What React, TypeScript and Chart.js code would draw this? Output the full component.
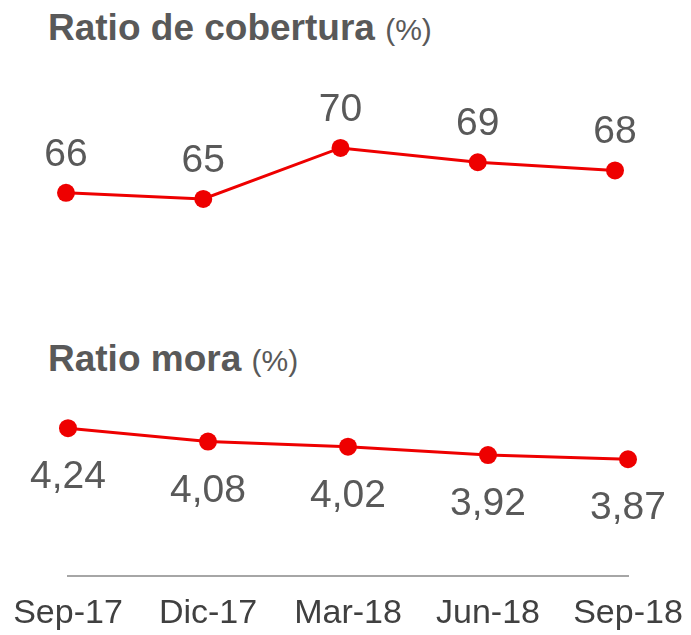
import React, { useEffect, useRef } from "react";
import { Chart, registerables } from "chart.js";

Chart.register(...registerables);

const categories = ["Sep-17", "Dic-17", "Mar-18", "Jun-18", "Sep-18"];
const coberturaValues = [65.6, 65.0, 70.0, 68.6, 67.8];
const moraValues = [4.24, 4.08, 4.02, 3.92, 3.87];

const FONT = "'Liberation Sans', Arial, Helvetica, sans-serif";
const RED = "#ee0000";
const LABEL_GRAY = "#595959";
const TICK_GRAY = "#404040";

function makeLabelPlugin(id: string, dy: number, fmt: (v: number) => string, size: number) {
  return {
    id,
    afterDatasetsDraw(chart: any) {
      const ctx = chart.ctx;
      ctx.save();
      ctx.font = `${size}px ${FONT}`;
      ctx.fillStyle = LABEL_GRAY;
      ctx.textAlign = "center";
      ctx.textBaseline = "alphabetic";
      chart.data.datasets.forEach((ds: any, i: number) => {
        const meta = chart.getDatasetMeta(i);
        meta.data.forEach((pt: any, j: number) => {
          ctx.fillText(fmt(ds.data[j] as number), pt.x, pt.y + dy);
        });
      });
      ctx.restore();
    },
  };
}

export default function App() {
  const topRef = useRef<HTMLCanvasElement>(null);
  const botRef = useRef<HTMLCanvasElement>(null);

  useEffect(() => {
    const lineDataset = (data: number[]) => ({
      data,
      borderColor: RED,
      backgroundColor: RED,
      borderWidth: 3,
      pointRadius: 9,
      pointHoverRadius: 9,
      pointBackgroundColor: RED,
      pointBorderWidth: 0,
      tension: 0,
      clip: false as any,
    });

    const top = new Chart(topRef.current!, {
      type: "line",
      data: { labels: categories, datasets: [lineDataset(coberturaValues)] },
      options: {
        animation: false,
        responsive: false,
        maintainAspectRatio: false,
        events: [],
        layout: { padding: { left: 66, right: 76, top: 100, bottom: 10 } },
        plugins: { legend: { display: false }, tooltip: { enabled: false } },
        scales: {
          x: { display: false, offset: false },
          y: { display: false, min: 60, max: 74.7 },
        },
      },
      plugins: [makeLabelPlugin("topLabels", -27, (v) => String(Math.round(v)), 39)],
    });

    const bot = new Chart(botRef.current!, {
      type: "line",
      data: { labels: categories, datasets: [lineDataset(moraValues)] },
      options: {
        animation: false,
        responsive: false,
        maintainAspectRatio: false,
        events: [],
        layout: { padding: { left: 68, right: 63, top: 66, bottom: 1 } },
        plugins: { legend: { display: false }, tooltip: { enabled: false } },
        scales: {
          x: {
            display: true,
            offset: false,
            grid: { display: false, drawTicks: false },
            border: { display: true, color: "#a6a6a6", width: 2 },
            ticks: {
              color: TICK_GRAY,
              font: { family: FONT, size: 34 },
              padding: 17,
              maxRotation: 0,
              minRotation: 0,
              autoSkip: false,
            },
            afterFit: (scale: any) => {
              scale.height = 58;
              scale.paddingLeft = 0;
              scale.paddingRight = 0;
            },
          },
          y: { display: false, min: 2.48, max: 4.98 },
        },
      },
      plugins: [makeLabelPlugin("botLabels", 60, (v) => v.toFixed(2).replace(".", ","), 39)],
    });

    return () => {
      top.destroy();
      bot.destroy();
    };
  }, []);

  const titleStyle: React.CSSProperties = {
    position: "absolute",
    left: 48,
    fontFamily: FONT,
    color: LABEL_GRAY,
    fontSize: 37,
    fontWeight: "bold",
    lineHeight: "37px",
    whiteSpace: "nowrap",
  };
  const unitStyle: React.CSSProperties = { fontWeight: "normal", fontSize: 30 };

  return (
    <div
      style={{
        position: "fixed",
        left: 0,
        top: 0,
        width: 691,
        height: 635,
        background: "#ffffff",
        overflow: "hidden",
      }}
    >
      <div style={{ ...titleStyle, top: 9 }}>
        Ratio de cobertura <span style={unitStyle}>(%)</span>
      </div>
      <div style={{ ...titleStyle, top: 340 }}>
        Ratio mora <span style={unitStyle}>(%)</span>
      </div>
      <canvas
        ref={topRef}
        width={691}
        height={260}
        style={{ position: "absolute", left: 0, top: 0, width: 691, height: 260 }}
      />
      <canvas
        ref={botRef}
        width={691}
        height={335}
        style={{ position: "absolute", left: 0, top: 300, width: 691, height: 335 }}
      />
    </div>
  );
}
